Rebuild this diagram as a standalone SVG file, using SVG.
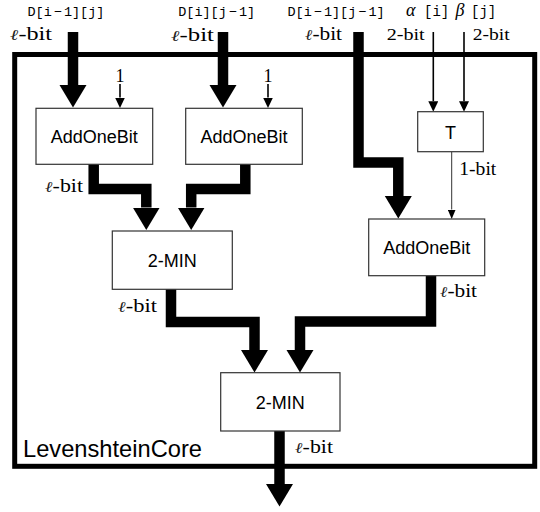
<svg xmlns="http://www.w3.org/2000/svg" width="540" height="512" viewBox="0 0 540 512">
<style>
.box{fill:#fff;stroke:#333;stroke-width:1.2}
.bt{font-family:"Liberation Sans",Arial,sans-serif;font-size:18px;text-anchor:middle;fill:#000}
.mono{font-family:"Liberation Mono","DejaVu Sans Mono",monospace;font-size:13.5px;fill:#000}
.ser{font-family:"Liberation Serif","DejaVu Serif",serif;font-size:18px;fill:#000}
.ser2{font-family:"Liberation Serif","DejaVu Serif",serif;font-size:17px;fill:#000}
.ell{font-family:"DejaVu Serif",serif;font-style:italic;font-size:15px;fill:#222}
.gk{font-family:"Liberation Serif","DejaVu Serif",serif;font-size:18px;font-style:italic}
.thick{fill:none;stroke:#000;stroke-width:10.5;stroke-linejoin:miter;stroke-linecap:butt}
.thin{fill:none;stroke:#000;stroke-width:1.6}
.hair{fill:none;stroke:#333;stroke-width:1}
</style>
<defs>
<marker id="big" markerUnits="userSpaceOnUse" viewBox="0 -14 23 28" refX="0" refY="0" markerWidth="23" markerHeight="28" orient="auto">
<polygon points="0,-13.5 22.5,0 0,13.5" fill="#000"/>
</marker>
<marker id="sm" markerUnits="userSpaceOnUse" viewBox="0 -5 11 10" refX="0" refY="0" markerWidth="11" markerHeight="10" orient="auto">
<polygon points="0,-5 10.5,0 0,5" fill="#000"/>
</marker>
<marker id="xs" markerUnits="userSpaceOnUse" viewBox="0 -4 10 8" refX="0" refY="0" markerWidth="10" markerHeight="8" orient="auto">
<polygon points="0,-4 9.5,0 0,4" fill="#000"/>
</marker>
</defs>

<g id="frame">
<rect x="14.7" y="54.5" width="520" height="411.8" fill="none" stroke="#000" stroke-width="5"/>
<text x="23" y="457.3" font-family="'Liberation Sans',Arial,sans-serif" font-size="24" textLength="179" lengthAdjust="spacingAndGlyphs">LevenshteinCore</text>
</g>

<g id="connectors">
<path class="thick" d="M73,32 V85" marker-end="url(#big)"/>
<path class="thick" d="M223,32 V85" marker-end="url(#big)"/>
<path class="thick" d="M358.5,32 V162.5 H398.3 V196" marker-end="url(#big)"/>
<path class="thick" d="M93.7,164 V189 H146.3 V207.5" marker-end="url(#big)"/>
<path class="thick" d="M245.3,164 V189 H191.2 V207.5" marker-end="url(#big)"/>
<path class="thick" d="M171,289 V322 H254.5 V350" marker-end="url(#big)"/>
<path class="thick" d="M431,276 V321.5 H300 V350" marker-end="url(#big)"/>
<path class="thick" d="M279.5,431 V484" marker-end="url(#big)"/>
<path class="thin" d="M120,84 V97.5" marker-end="url(#sm)"/>
<path class="thin" d="M268,84 V97.5" marker-end="url(#sm)"/>
<path class="thin" stroke-width="2" d="M433.3,32 V101.2" marker-end="url(#sm)"/>
<path class="thin" stroke-width="2" d="M464,32 V101.2" marker-end="url(#sm)"/>
<path class="hair" d="M451.7,152 V209.5" marker-end="url(#xs)"/>
</g>

<g id="inputs">
<text class="mono" x="27.5" y="16">D[i<tspan dx="2">−</tspan><tspan dx="2">1][j]</tspan></text>
<text class="mono" x="178.2" y="16">D[i][j<tspan dx="2">−</tspan><tspan dx="2">1]</tspan></text>
<text class="mono" x="287.5" y="16">D[i<tspan dx="2">−</tspan><tspan dx="2">1][j</tspan><tspan dx="2">−</tspan><tspan dx="2">1]</tspan></text>
<text class="mono" x="406" y="16"><tspan class="gk">α</tspan><tspan x="424" font-size="14">[i]</tspan></text>
<text class="mono" x="455.5" y="16"><tspan class="gk">β</tspan><tspan x="471" font-size="14">[j]</tspan></text>
<text class="ser" x="10" y="40" textLength="42" lengthAdjust="spacingAndGlyphs"><tspan class="ell">ℓ</tspan>-bit</text>
<text class="ser" x="171" y="41" textLength="43" lengthAdjust="spacingAndGlyphs"><tspan class="ell">ℓ</tspan>-bit</text>
<text class="ser" x="305" y="40" textLength="37" lengthAdjust="spacingAndGlyphs"><tspan class="ell">ℓ</tspan>-bit</text>
<text class="ser2" x="386.7" y="40" textLength="38" lengthAdjust="spacingAndGlyphs">2-bit</text>
<text class="ser2" x="472.7" y="40" textLength="37" lengthAdjust="spacingAndGlyphs">2-bit</text>
<text class="ser" x="120" y="82" font-size="14" text-anchor="middle">1</text>
<text class="ser" x="268" y="82" font-size="14" text-anchor="middle">1</text>
</g>

<g id="addOneBit1">
<rect class="box" x="36" y="108.3" width="116.7" height="56"/>
<text class="bt" x="94.3" y="143">AddOneBit</text>
</g>
<g id="addOneBit2">
<rect class="box" x="185.7" y="108.3" width="116.6" height="56"/>
<text class="bt" x="244" y="143">AddOneBit</text>
</g>
<g id="T">
<rect class="box" x="417.7" y="111.7" width="65.6" height="40"/>
<text class="bt" x="450.5" y="139" font-size="20">T</text>
</g>
<g id="addOneBit3">
<rect class="box" x="368.7" y="219" width="116" height="56.7"/>
<text class="bt" x="426.7" y="254">AddOneBit</text>
</g>
<g id="min1">
<rect class="box" x="112.3" y="231" width="120" height="58.3"/>
<text class="bt" x="172.3" y="266.5">2-MIN</text>
</g>
<g id="min2">
<rect class="box" x="220.7" y="372.7" width="119.3" height="58.3"/>
<text class="bt" x="280.3" y="408.5">2-MIN</text>
</g>

<g id="labels">
<text class="ser" x="45" y="191.7" textLength="38" lengthAdjust="spacingAndGlyphs"><tspan class="ell">ℓ</tspan>-bit</text>
<text class="ser" x="459.3" y="175" textLength="37" lengthAdjust="spacingAndGlyphs">1-bit</text>
<text class="ser" x="118" y="312" textLength="39" lengthAdjust="spacingAndGlyphs"><tspan class="ell">ℓ</tspan>-bit</text>
<text class="ser" x="440" y="297" textLength="37" lengthAdjust="spacingAndGlyphs"><tspan class="ell">ℓ</tspan>-bit</text>
<text class="ser" x="295" y="453.3" textLength="38" lengthAdjust="spacingAndGlyphs"><tspan class="ell">ℓ</tspan>-bit</text>
</g>
</svg>
